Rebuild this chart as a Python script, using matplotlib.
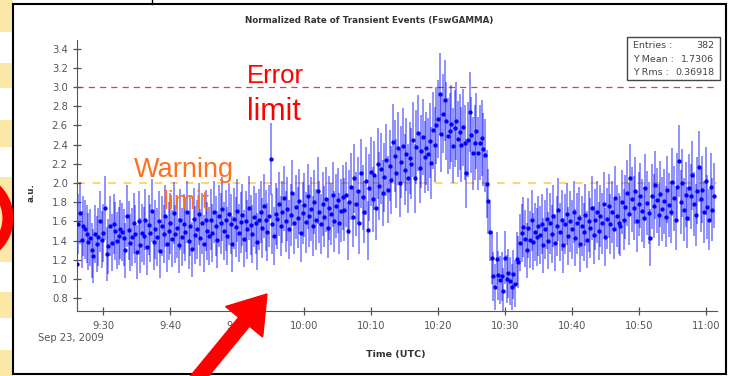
import numpy as np
import matplotlib.pyplot as plt
from matplotlib.patches import Rectangle, Circle, Polygon

plt.rcParams['font.family'] = ['DejaVu Sans']

# one entry every 15 s starting 9:26 UTC (minutes after midnight)
t_start = 9 * 60 + 26
t_step = 0.25

# normalized rate in 10 minute blocks
seg_0926 = [1.16, 1.57, 1.69, 1.41, 1.55, 1.52, 1.47, 1.39, 1.43, 1.30,
            1.24, 1.47, 1.36, 1.44, 1.60, 1.41, 1.48, 1.74, 1.26, 1.34,
            1.55, 1.38, 1.57, 1.50, 1.40, 1.45, 1.52, 1.49, 1.43, 1.30,
            1.66, 1.51, 1.38, 1.44, 1.58, 1.47, 1.28, 1.60, 1.35, 1.48]
seg_0936 = [1.45, 1.62, 1.33, 1.56, 1.48, 1.71, 1.39, 1.52, 1.44, 1.60,
            1.29, 1.55, 1.47, 1.66, 1.36, 1.50, 1.58, 1.42, 1.69, 1.47,
            1.53, 1.35, 1.62, 1.44, 1.57, 1.49, 1.70, 1.40, 1.55, 1.31,
            1.63, 1.46, 1.52, 1.68, 1.43, 1.58, 1.37, 1.61, 1.50, 1.45]
seg_0946 = [1.62, 1.48, 1.70, 1.55, 1.41, 1.66, 1.58, 1.73, 1.50, 1.61,
            1.45, 1.68, 1.57, 1.36, 1.63, 1.54, 1.71, 1.48, 1.59, 1.67,
            1.42, 1.60, 1.52, 1.74, 1.56, 1.47, 1.65, 1.58, 1.39, 1.62,
            1.70, 1.53, 1.76, 1.61, 1.49, 1.66, 2.25, 1.57, 1.45, 1.68]
seg_0956 = [1.63, 1.78, 1.55, 1.70, 1.84, 1.60, 1.73, 1.52, 1.67, 1.90,
            1.58, 1.75, 1.64, 1.81, 1.48, 1.69, 1.77, 1.59, 1.86, 1.66,
            1.73, 1.55, 1.80, 1.62, 1.92, 1.70, 1.57, 1.78, 1.65, 1.83,
            1.53, 1.74, 1.68, 1.88, 1.60, 1.76, 1.82, 1.58, 1.71, 1.85]
seg_1006 = [1.72, 1.88, 1.50, 1.80, 1.96, 1.65, 2.05, 1.78, 1.92, 1.58,
            2.10, 1.85, 1.70, 2.02, 1.51, 1.95, 2.12, 1.83, 2.08, 1.74,
            2.20, 1.97, 2.15, 1.90, 2.06, 2.24, 1.93, 2.18, 2.03, 2.43,
            2.28, 2.10, 2.36, 2.00, 2.22, 2.39, 2.14, 2.30, 2.05, 2.26]
seg_1016 = [2.20, 2.45, 2.05, 2.38, 2.52, 2.16, 2.33, 2.48, 2.27, 2.36,
            2.30, 2.44, 2.21, 2.55, 2.40, 2.60, 2.67, 2.93, 2.51, 2.72,
            2.86, 2.65, 2.49, 2.54, 2.62, 2.39, 2.57, 2.65, 2.46, 2.53,
            2.40, 2.58, 2.42, 2.10, 2.45, 2.74, 2.50, 2.31, 2.42, 2.54]
seg_1026 = [2.31, 2.42, 2.47, 2.35, 2.29, 1.99, 1.81, 1.49, 1.22, 1.03,
            0.92, 1.21, 1.04, 0.99, 1.03, 0.88, 1.22, 1.00, 1.06, 0.98,
            0.92, 1.05, 0.95, 1.21, 1.18, 1.38, 1.48, 1.54, 1.42, 1.30,
            1.53, 1.41, 1.61, 1.39, 1.49, 1.44, 1.55, 1.46, 1.57, 1.35]
seg_1036 = [1.52, 1.63, 1.40, 1.58, 1.47, 1.66, 1.38, 1.55, 1.72, 1.49,
            1.61, 1.35, 1.57, 1.68, 1.45, 1.60, 1.52, 1.70, 1.43, 1.58,
            1.64, 1.37, 1.55, 1.49, 1.67, 1.41, 1.60, 1.53, 1.74, 1.46,
            1.62, 1.70, 1.50, 1.66, 1.58, 1.78, 1.44, 1.63, 1.76, 1.57]
seg_1046 = [1.70, 1.52, 1.84, 1.66, 1.58, 1.55, 1.80, 1.62, 1.75, 1.90,
            1.68, 2.05, 1.83, 1.74, 1.92, 1.60, 1.78, 1.87, 1.71, 1.64,
            1.95, 1.79, 1.69, 1.43, 1.86, 1.76, 1.98, 1.82, 1.67, 1.89,
            1.73, 1.81, 1.65, 1.93, 1.77, 1.70, 2.01, 1.84, 1.62, 1.96]
seg_1056 = [2.23, 1.80, 2.00, 1.72, 1.88, 1.64, 1.95, 1.86, 2.08, 1.78,
            1.67, 1.92, 2.17, 1.83, 1.93, 1.70, 2.02, 1.75, 1.62, 1.96,
            1.72, 1.87]

tick_minutes = [570, 580, 590, 600, 610, 620, 630, 640, 650, 660]
tick_labels = ['9:30', '9:40', '9:50', '10:00', '10:10', '10:20',
               '10:30', '10:40', '10:50', '11:00']
y_ticks = [0.8, 1.0, 1.2, 1.4, 1.6, 1.8, 2.0, 2.2, 2.4, 2.6, 2.8, 3.0, 3.2, 3.4]
error_limit = 3.0
warning_limit = 2.0
stat_names = ['Entries :', 'Y Mean :', 'Y Rms :']
stat_values = ['382', '1.7306', '0.36918']

rate = np.array(seg_0926 + seg_0936 + seg_0946 + seg_0956 + seg_1006 +
                seg_1016 + seg_1026 + seg_1036 + seg_1046 + seg_1056)
t = t_start + t_step * np.arange(len(rate))
# counting error of a normalized rate
err = 0.25 * np.sqrt(rate)

W, H = 730, 376
fig = plt.figure(figsize=(W / 100, H / 100), dpi=100)
fig.patch.set_facecolor('white')

ax = fig.add_axes([76.7 / W, 1 - 311 / H, 640 / W, 271 / H])
ax.errorbar(t, rate, yerr=err, fmt='none', ecolor='#0000ff', elinewidth=1.2,
            alpha=0.5, zorder=2)
ax.plot(t, rate, 'o', color='#0000ff', ms=3.1, mew=0, zorder=3)
ax.axhline(error_limit, color='#e04040', lw=0.9, ls=(0, (5, 4)), zorder=1)
ax.axhline(warning_limit, color='#ffd56e', lw=1.4, ls=(0, (4, 4)), zorder=1)

ax.set_xlim(566, 661.65)
ax.set_ylim(0.667, 3.49)
ax.set_xticks(tick_minutes)
ax.set_xticklabels(tick_labels)
ax.set_yticks(y_ticks)
ax.set_yticklabels(['%.1f' % v for v in y_ticks])
for s in ['top', 'right']:
    ax.spines[s].set_visible(False)
for s in ['left', 'bottom']:
    ax.spines[s].set_color('#555555')
ax.tick_params(direction='inout', length=6, width=0.9, colors='#555555',
               labelsize=7.2)
ax.tick_params(axis='x', pad=4)

# overlay in pixel coordinates for the page decorations
ov = fig.add_axes([0, 0, 1, 1], zorder=5)
ov.set_xlim(0, W)
ov.set_ylim(H, 0)
ov.axis('off')
ov.patch.set_alpha(0)

for y0, y1 in [(0, 32), (63, 88), (120, 147), (177, 262), (292, 318), (350, 376)]:
    ov.add_patch(Rectangle((0, y0), 13, y1 - y0, fc='#fbe7a6', ec='none'))
ov.add_patch(Rectangle((13, 4), 713, 370, fc='none', ec='black', lw=1.5))
ov.plot([152, 152], [0, 4], color='black', lw=1)
ov.add_patch(Circle((-32, 218), 40, fc='none', ec='#ff0000', lw=8))

ov.text(369, 20, 'Normalized Rate of Transient Events (FswGAMMA)', ha='center',
        va='center', fontsize=6.3, fontweight='bold', color='#333333')
ov.text(31, 193, 'a.u.', rotation=90, ha='center', va='center', fontsize=6.3,
        fontweight='bold', color='#333333')
ov.text(396, 355, 'Time (UTC)', ha='center', va='center', fontsize=6.8,
        fontweight='bold', color='#333333')
ov.text(38, 338, 'Sep 23, 2009', ha='left', va='center', fontsize=7.2,
        color='#555555')

ov.add_patch(Rectangle((627, 37), 93, 43, fc='white', ec='#444444', lw=1))
for i in range(3):
    ov.text(633, 45.5 + i * 13.5, stat_names[i], ha='left', va='center',
            fontsize=6.8, color='#444444')
    ov.text(714, 45.5 + i * 13.5, stat_values[i], ha='right', va='center',
            fontsize=6.8, color='#444444')

ann = ['Liberation Sans', 'DejaVu Sans']
ov.text(247, 83, 'Error', color='#ff0000', fontsize=18.5, family=ann,
        va='baseline')
ov.text(247, 120, 'limit', color='#ff0000', fontsize=22, family=ann,
        va='baseline')
ov.text(134, 177, 'Warning', color='#ff7020', fontsize=19.5, family=ann,
        va='baseline')
ov.text(162, 209, 'limit', color='#ff7020', fontsize=19, family=ann,
        va='baseline')

# big red arrow
tip = np.array([267.0, 294.0])
tail = np.array([188.0, 390.0])
d = (tip - tail) / np.hypot(*(tip - tail))
p = np.array([-d[1], d[0]])
base = tip - 36 * d
shaft = [tail + 7 * p, base + 7 * p, base + 24 * p, tip, base - 24 * p,
         base - 7 * p, tail - 7 * p]
ov.add_patch(Polygon(shaft, closed=True, fc='#ff0000', ec='#ff0000', lw=1))

fig.savefig('out.png', dpi=100)
